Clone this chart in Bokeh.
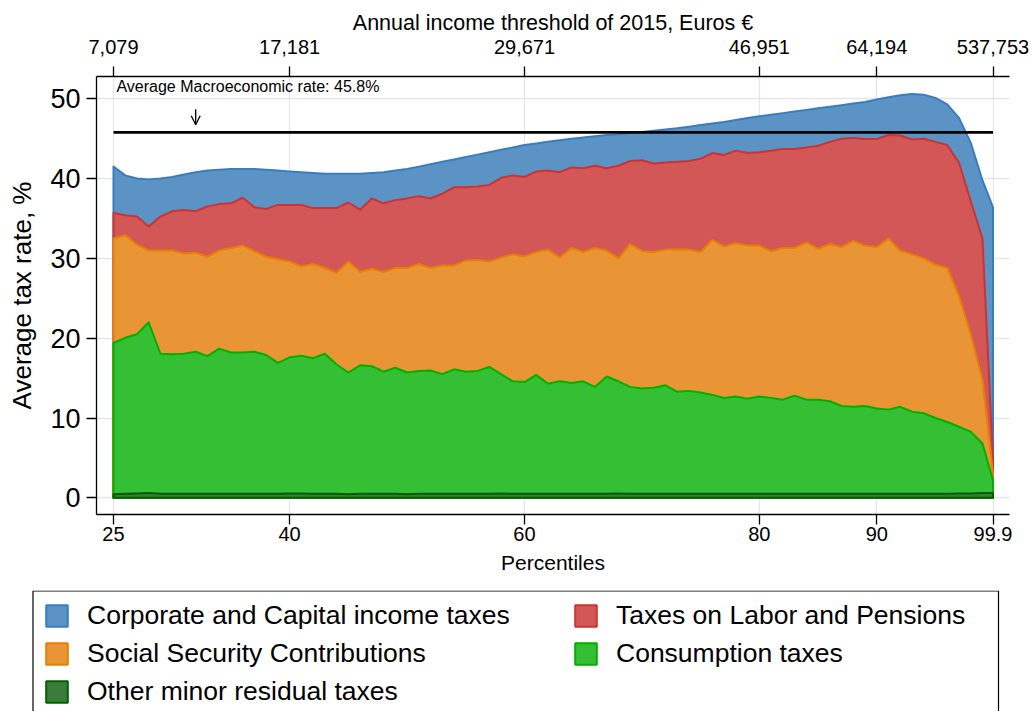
import numpy as np
from bokeh.plotting import figure
from bokeh.models import (LinearAxis, FixedTicker, Range1d, Legend, LegendItem,
                          Label, Arrow, OpenHead, ColumnDataSource)
from bokeh.embed import file_html
from bokeh.resources import INLINE

# ---------------- data ----------------
percentiles = [25, 26, 27, 28, 29, 30, 31, 32, 33, 34, 35, 36, 37, 38, 39, 40,
               41, 42, 43, 44, 45, 46, 47, 48, 49, 50, 51, 52, 53, 54, 55, 56,
               57, 58, 59, 60, 61, 62, 63, 64, 65, 66, 67, 68, 69, 70, 71, 72,
               73, 74, 75, 76, 77, 78, 79, 80, 81, 82, 83, 84, 85, 86, 87, 88,
               89, 90, 91, 92, 93, 94, 95, 96, 97, 98, 99, 99.9]

# cumulative tops of the stacked areas (average tax rate, %)
corporate_capital_top = [41.5, 40.4, 40.0, 39.9, 40.0, 40.2, 40.5, 40.8, 41.0, 41.1,
                         41.2, 41.2, 41.2, 41.1, 41.0, 40.9, 40.8, 40.7, 40.6, 40.6,
                         40.6, 40.6, 40.7, 40.8, 41.0, 41.2, 41.5, 41.8, 42.1, 42.4,
                         42.7, 43.0, 43.3, 43.6, 43.9, 44.2, 44.4, 44.6, 44.8, 45.0,
                         45.15, 45.3, 45.45, 45.55, 45.7, 45.85, 46.0, 46.15, 46.3, 46.5,
                         46.7, 46.9, 47.1, 47.35, 47.6, 47.8, 48.0, 48.2, 48.4, 48.6,
                         48.8, 49.0, 49.2, 49.4, 49.6, 49.9, 50.2, 50.45, 50.6, 50.5,
                         50.1, 49.3, 47.6, 44.5, 39.8, 36.4]
labor_pensions_top = [35.7, 35.4, 35.25, 34.0, 35.25, 35.9, 36.05, 35.9, 36.5, 36.8,
                      36.9, 37.6, 36.4, 36.2, 36.7, 36.7, 36.7, 36.3, 36.3, 36.3,
                      37.0, 36.1, 37.5, 36.9, 37.3, 37.5, 37.8, 37.5, 38.1, 38.9,
                      38.9, 39.0, 39.2, 40.1, 40.4, 40.2, 40.9, 41.0, 40.8, 41.4,
                      41.3, 41.6, 41.3, 41.6, 42.2, 42.3, 41.9, 42.0, 42.1, 42.2,
                      42.5, 43.2, 42.96, 43.5, 43.2, 43.3, 43.5, 43.7, 43.7, 43.9,
                      44.1, 44.6, 45.0, 45.1, 44.96, 44.96, 45.46, 45.4, 44.9, 45.0,
                      44.6, 44.2, 42.0, 37.2, 32.5, 4.7]
social_security_top = [32.5, 32.9, 31.7, 31.0, 31.0, 31.0, 30.6, 30.7, 30.2, 31.0,
                       31.3, 31.6, 30.9, 30.2, 29.9, 29.6, 29.0, 29.3, 28.8, 28.2,
                       29.6, 28.3, 28.7, 28.3, 28.8, 28.8, 29.3, 28.8, 29.1, 29.1,
                       29.75, 29.8, 29.6, 30.1, 30.5, 30.25, 30.8, 31.1, 30.1, 31.3,
                       30.8, 31.3, 30.96, 30.0, 31.8, 30.9, 30.8, 31.1, 31.1, 31.1,
                       30.8, 32.3, 31.5, 31.9, 31.6, 31.6, 30.9, 31.3, 31.3, 32.0,
                       31.2, 31.8, 31.4, 32.2, 31.6, 31.4, 32.5, 30.96, 30.5, 30.0,
                       29.2, 28.8, 25.3, 20.5, 14.8, 3.0]
consumption_top = [19.4, 20.05, 20.5, 22.0, 18.05, 18.0, 18.05, 18.3, 17.75, 18.7,
                   18.2, 18.2, 18.3, 17.9, 16.9, 17.6, 17.8, 17.5, 18.05, 16.7,
                   15.7, 16.6, 16.5, 15.8, 16.3, 15.7, 15.9, 15.96, 15.5, 16.1,
                   15.8, 15.9, 16.4, 15.5, 14.6, 14.5, 15.4, 14.3, 14.6, 14.4,
                   14.6, 13.9, 15.2, 14.6, 13.9, 13.7, 13.8, 14.1, 13.3, 13.4,
                   13.2, 12.9, 12.5, 12.7, 12.4, 12.7, 12.5, 12.3, 12.8, 12.3,
                   12.3, 12.1, 11.5, 11.4, 11.5, 11.2, 11.05, 11.4, 10.8, 10.6,
                   10.0, 9.5, 8.9, 8.3, 6.8, 2.2]
other_minor_top = [0.45, 0.5, 0.55, 0.6, 0.5, 0.5, 0.5, 0.5, 0.5, 0.5,
                   0.5, 0.5, 0.5, 0.5, 0.5, 0.55, 0.55, 0.5, 0.5, 0.5,
                   0.45, 0.5, 0.5, 0.5, 0.5, 0.45, 0.5, 0.5, 0.5, 0.5,
                   0.5, 0.5, 0.5, 0.55, 0.5, 0.5, 0.5, 0.5, 0.5, 0.5,
                   0.5, 0.5, 0.5, 0.55, 0.5, 0.5, 0.5, 0.5, 0.5, 0.5,
                   0.5, 0.5, 0.5, 0.5, 0.5, 0.5, 0.5, 0.5, 0.5, 0.5,
                   0.5, 0.5, 0.5, 0.5, 0.5, 0.5, 0.5, 0.5, 0.5, 0.5,
                   0.5, 0.5, 0.55, 0.55, 0.6, 0.6]

avg_macro_rate = 45.8
avg_label = "Average Macroeconomic rate: 45.8%"

x_ticks = [25, 40, 60, 80, 90, 99.9]
x_tick_labels = ["25", "40", "60", "80", "90", "99.9"]
income_tick_labels = ["7,079", "17,181", "29,671", "46,951", "64,194", "537,753"]
y_ticks = [0, 10, 20, 30, 40, 50]

series_labels = ["Corporate and Capital income taxes", "Taxes on Labor and Pensions",
                 "Social Security Contributions", "Consumption taxes",
                 "Other minor residual taxes"]

# ---------------- styling ----------------
FONT = "Liberation Sans"
fills = ["#5b93c5", "#d35757", "#e99535", "#34bf34", "#3a7d3a"]
lines = ["#3a7dbf", "#cc3333", "#e68000", "#00b000", "#005f00"]

p = figure(width=1032, height=590, output_backend="svg", toolbar_location=None,
           x_range=Range1d(23.553, 101.305), y_range=Range1d(-2.09, 52.79),
           min_border_left=96, min_border_right=23, min_border_top=76,
           min_border_bottom=76, outline_line_color=None,
           background_fill_color="white", border_fill_color="white")

bottom_axis = p.below[0]
left_axis = p.left[0]

xs = np.array(percentiles, dtype=float)
for top, fc, lc in zip([corporate_capital_top, labor_pensions_top, social_security_top,
                        consumption_top, other_minor_top], fills, lines):
    px = np.concatenate([[xs[0]], xs, [xs[-1]]])
    py = np.concatenate([[0.0], np.array(top, dtype=float), [0.0]])
    p.patch(px, py, fill_color=fc, line_color=lc, line_width=2, line_join="round")

# average macroeconomic rate line
seg_src = ColumnDataSource(dict(x0=[percentiles[0]], x1=[percentiles[-1]],
                                y0=[avg_macro_rate], y1=[avg_macro_rate]))
p.segment(x0="x0", y0="y0", x1="x1", y1="y1", source=seg_src,
          line_color="black", line_width=2.7)

p.add_layout(Label(x=25.25, y=51.5, text=avg_label, text_font=FONT,
                   text_font_size="16px", text_baseline="middle", text_align="left",
                   text_color="black"))
p.add_layout(Arrow(x_start=32.0, y_start=48.7, x_end=32.0, y_end=46.75,
                   line_width=1.3, line_color="black",
                   end=OpenHead(size=9, line_width=1.3, line_color="black")))

# axes
bottom_axis.ticker = FixedTicker(ticks=x_ticks)
bottom_axis.major_label_overrides = dict(zip(x_ticks, x_tick_labels))
bottom_axis.axis_label = "Percentiles"
left_axis.ticker = FixedTicker(ticks=y_ticks)
left_axis.axis_label = "Average tax rate, %"

top_axis = LinearAxis(ticker=FixedTicker(ticks=x_ticks),
                      major_label_overrides=dict(zip(x_ticks, income_tick_labels)),
                      axis_label="Annual income threshold of 2015, Euros €")
p.add_layout(top_axis, "above")

for ax in [bottom_axis, left_axis, top_axis]:
    ax.major_tick_in = 0
    ax.major_tick_out = 10
    ax.minor_tick_line_color = None
    ax.axis_line_color = "black"
    ax.axis_line_width = 1.3
    ax.major_tick_line_color = "black"
    ax.major_tick_line_width = 1.3
    ax.major_label_text_font = FONT
    ax.major_label_text_color = "black"
    ax.axis_label_text_font = FONT
    ax.axis_label_text_font_style = "normal"
    ax.axis_label_text_color = "black"

bottom_axis.major_label_text_font_size = "20px"
bottom_axis.axis_label_text_font_size = "21px"
bottom_axis.major_label_standoff = 2
bottom_axis.axis_label_standoff = 7
left_axis.major_label_text_font_size = "27px"
left_axis.axis_label_text_font_size = "26px"
left_axis.major_label_standoff = 6
left_axis.axis_label_standoff = 10
top_axis.major_label_text_font_size = "20px"
top_axis.axis_label_text_font_size = "21.5px"
top_axis.major_label_standoff = 13
top_axis.axis_label_standoff = 2

p.xgrid.ticker = FixedTicker(ticks=x_ticks)
p.ygrid.ticker = FixedTicker(ticks=y_ticks)
p.xgrid.grid_line_color = "#e6e6e6"
p.ygrid.grid_line_color = "#e6e6e6"
p.xgrid.grid_line_width = 1.3
p.ygrid.grid_line_width = 1.3

# ---------------- legend panel (below the chart) ----------------
lf = figure(width=1032, height=121, output_backend="svg", toolbar_location=None,
            x_range=Range1d(0, 1032), y_range=Range1d(0, 121), x_axis_type=None,
            y_axis_type=None, min_border=0, min_border_left=0, min_border_right=0,
            min_border_top=0, min_border_bottom=0, outline_line_color=None,
            background_fill_color="white", border_fill_color="white")
lf.grid.visible = False
# legend box outline
lf.quad(left=[32.5], right=[998], top=[120.5], bottom=[-10], fill_color=None,
        line_color="black", line_width=1.2)
nan = float("nan")
legend_renderers = [lf.quad(left=[nan], right=[nan], top=[nan], bottom=[nan],
                            fill_color=fc, line_color=lc, line_width=2)
                    for fc, lc in zip(fills, lines)]
items = [LegendItem(label=lab, renderers=[r]) for lab, r in zip(series_labels, legend_renderers)]

common = dict(label_text_font=FONT, label_text_font_size="26.5px", label_text_color="black",
              glyph_width=27, glyph_height=27, label_standoff=17, spacing=7, padding=0,
              margin=0, border_line_color=None, background_fill_alpha=0.0,
              orientation="vertical")
legend_left = Legend(items=[items[0], items[2], items[4]], location=(43, 4), **common)
legend_right = Legend(items=[items[1], items[3]], location=(572, 42), **common)
lf.add_layout(legend_left, "center")
lf.add_layout(legend_right, "center")

open("out.html", "w").write(file_html([p, lf], INLINE))
